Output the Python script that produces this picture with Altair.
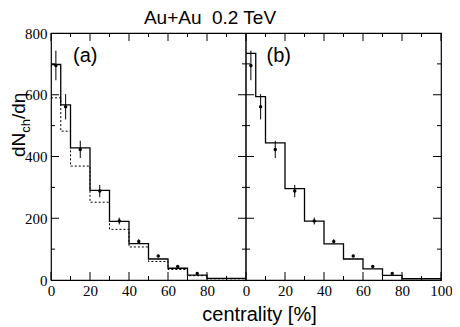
import altair as alt
import pandas as pd

# ---- data ----
bin_lo = [0, 5, 10, 20, 30, 40, 50, 60, 70, 80]
bin_hi = [5, 10, 20, 30, 40, 50, 60, 70, 80, 100]
model_a_solid = [698, 567, 428, 290, 190, 118, 68, 38, 16, 5]
model_a_dotted = [590, 482, 369, 252, 164, 107, 60, 34, 14, 4]
model_b_solid = [734, 594, 444, 296, 191, 117, 68, 36, 15, 4]

cent = [2.5, 7.5, 15, 25, 35, 45, 55, 65, 75]
dndeta = [695, 561, 423, 288, 191, 125, 78, 44, 21]
err = [48, 41, 28, 20, 11, 7, 4, 3, 2]

x_major = [0, 20, 40, 60, 80, 100, 120, 140, 160, 180, 200]
x_minor = [10, 30, 50, 70, 90, 110, 130, 150, 170, 190]
y_major = [200, 400, 600]
y_minor = [100, 300, 500, 700]
y_labels = [0, 200, 400, 600, 800]

PANEL_SHIFT = {"a": 0, "b": 100}
W, H = 390, 247
SERIF = "Liberation Serif"
SANS = "Liberation Sans"

# ---- tables ----
def steps(vals, panel, style):
    rows = []
    for lo, v in zip(bin_lo, vals):
        rows.append({"x": lo + PANEL_SHIFT[panel], "y": v, "s": panel + style})
    rows.append({"x": bin_hi[-1] + PANEL_SHIFT[panel], "y": vals[-1], "s": panel + style})
    return rows

solid_df = pd.DataFrame(steps(model_a_solid, "a", "solid") + steps(model_b_solid, "b", "solid"))
dotted_df = pd.DataFrame(steps(model_a_dotted, "a", "dot"))

pts = []
for p in ["a", "b"]:
    for c, v, e in zip(cent, dndeta, err):
        pts.append({"x": c + PANEL_SHIFT[p], "y": v, "lo": v - e, "hi": v + e})
pts_df = pd.DataFrame(pts)

xs = alt.Scale(domain=[0, 200], nice=False, zero=False)
ys = alt.Scale(domain=[0, 800], nice=False, zero=False)

label_expr = ("datum.value == 100 ? '0' : (datum.value > 100 ? "
              "format(datum.value - 100, 'd') : format(datum.value, 'd'))")

x_axis = alt.Axis(values=x_major, labelExpr=label_expr, ticks=False, domain=False,
                  grid=False, labelFont=SERIF, labelFontSize=15,
                  labelColor="black", labelPadding=3, labelFlush=False,
                  labelOverlap=False, labelBound=False,
                  title="centrality [%]", titleFont=SANS,
                  titleFontSize=20, titleFontWeight="normal", titleColor="black",
                  titleX=208, titleY=40, titleAlign="center",
                  titleBaseline="alphabetic", titleAnchor="start")
y_axis = alt.Axis(values=y_labels, ticks=False, domain=False, grid=False,
                  labelFont=SERIF, labelFontSize=15, labelColor="black",
                  labelPadding=4, labelFlush=False, labelOverlap=False, title="")


def X(field):
    return alt.X(field, scale=xs, axis=x_axis)


def Y(field):
    return alt.Y(field, scale=ys, axis=y_axis)


base_frame = alt.Chart(pd.DataFrame({"x": [100], "y0": [0], "y1": [800]})).mark_rule(
    color="black", strokeWidth=1.5
).encode(x=X("x:Q"), y=Y("y0:Q"), y2="y1:Q")

solid = alt.Chart(solid_df).mark_line(
    interpolate="step-after", color="black", strokeWidth=1.3
).encode(x=X("x:Q"), y=Y("y:Q"), detail="s:N")

dotted = alt.Chart(dotted_df).mark_line(
    interpolate="step-after", color="black", strokeWidth=1, strokeDash=[2, 2]
).encode(x=X("x:Q"), y=Y("y:Q"), detail="s:N")

ebars = alt.Chart(pts_df).mark_rule(color="black", strokeWidth=1).encode(
    x=X("x:Q"), y=Y("lo:Q"), y2="hi:Q"
)
dots = alt.Chart(pts_df).mark_circle(color="black", size=12, opacity=1).encode(
    x=X("x:Q"), y=Y("y:Q")
)


def tick_df(vals, fixed):
    return pd.DataFrame({"v": vals, "f": [fixed] * len(vals)})


def xticks(vals, yval, size, off):
    return alt.Chart(tick_df(vals, yval)).mark_tick(
        orient="vertical", size=size, thickness=1, color="black", opacity=1, yOffset=off
    ).encode(x=X("v:Q"), y=Y("f:Q"))


def yticks(vals, xval, size, off):
    return alt.Chart(tick_df(vals, xval)).mark_tick(
        orient="horizontal", size=size, thickness=1, color="black", opacity=1, xOffset=off
    ).encode(y=Y("v:Q"), x=X("f:Q"))


ticks = [
    xticks(x_major, 0, 8, -4), xticks(x_minor, 0, 4, -2),
    xticks(x_major, 800, 8, 4), xticks(x_minor, 800, 4, 2),
    yticks(y_major, 0, 8, 4), yticks(y_minor, 0, 4, 2),
    yticks(y_major, 200, 8, -4), yticks(y_minor, 200, 4, -2),
    yticks(y_major, 100, 16, 0), yticks(y_minor, 100, 8, 0),
]

panel_labels = alt.Chart(pd.DataFrame({"x": [11.3, 110.5], "y": [725, 725], "t": ["(a)", "(b)"]})).mark_text(
    align="left", baseline="middle", font=SANS, fontSize=20, color="black"
).encode(x=X("x:Q"), y=Y("y:Q"), text="t:N")

one = pd.DataFrame({"k": [0]})
title = alt.Chart(one).mark_text(
    text="Au+Au\u00a0 0.2 TeV", align="center", baseline="alphabetic",
    font=SANS, fontSize=19, color="black"
).encode(x=alt.value(159), y=alt.value(-9))

ytitle_dn = alt.Chart(one).mark_text(
    text="dN", angle=270, align="left", baseline="alphabetic",
    font=SANS, fontSize=19, color="black"
).encode(x=alt.value(-26), y=alt.value(124))
ytitle_ch = alt.Chart(one).mark_text(
    text="ch", angle=270, align="left", baseline="alphabetic",
    font=SANS, fontSize=13, color="black"
).encode(x=alt.value(-21), y=alt.value(99.7))
ytitle_rest = alt.Chart(one).mark_text(
    text="/d\u03b7", angle=270, align="left", baseline="alphabetic",
    font=SANS, fontSize=19, color="black"
).encode(x=alt.value(-26), y=alt.value(86))

chart = alt.layer(
    base_frame, dotted, solid, ebars, dots, *ticks, panel_labels,
    title, ytitle_dn, ytitle_ch, ytitle_rest
).properties(
    width=W, height=H,
    autosize=alt.AutoSizeParams(type="none"),
    padding={"left": 43, "top": 25, "right": 11, "bottom": 46},
).configure_view(
    stroke="black", strokeWidth=1.2
).configure_axis(
    labelFont=SERIF, labelFontSize=15, labelColor="black"
)

chart.save("out.html", embed_options={"renderer": "svg", "actions": False})
